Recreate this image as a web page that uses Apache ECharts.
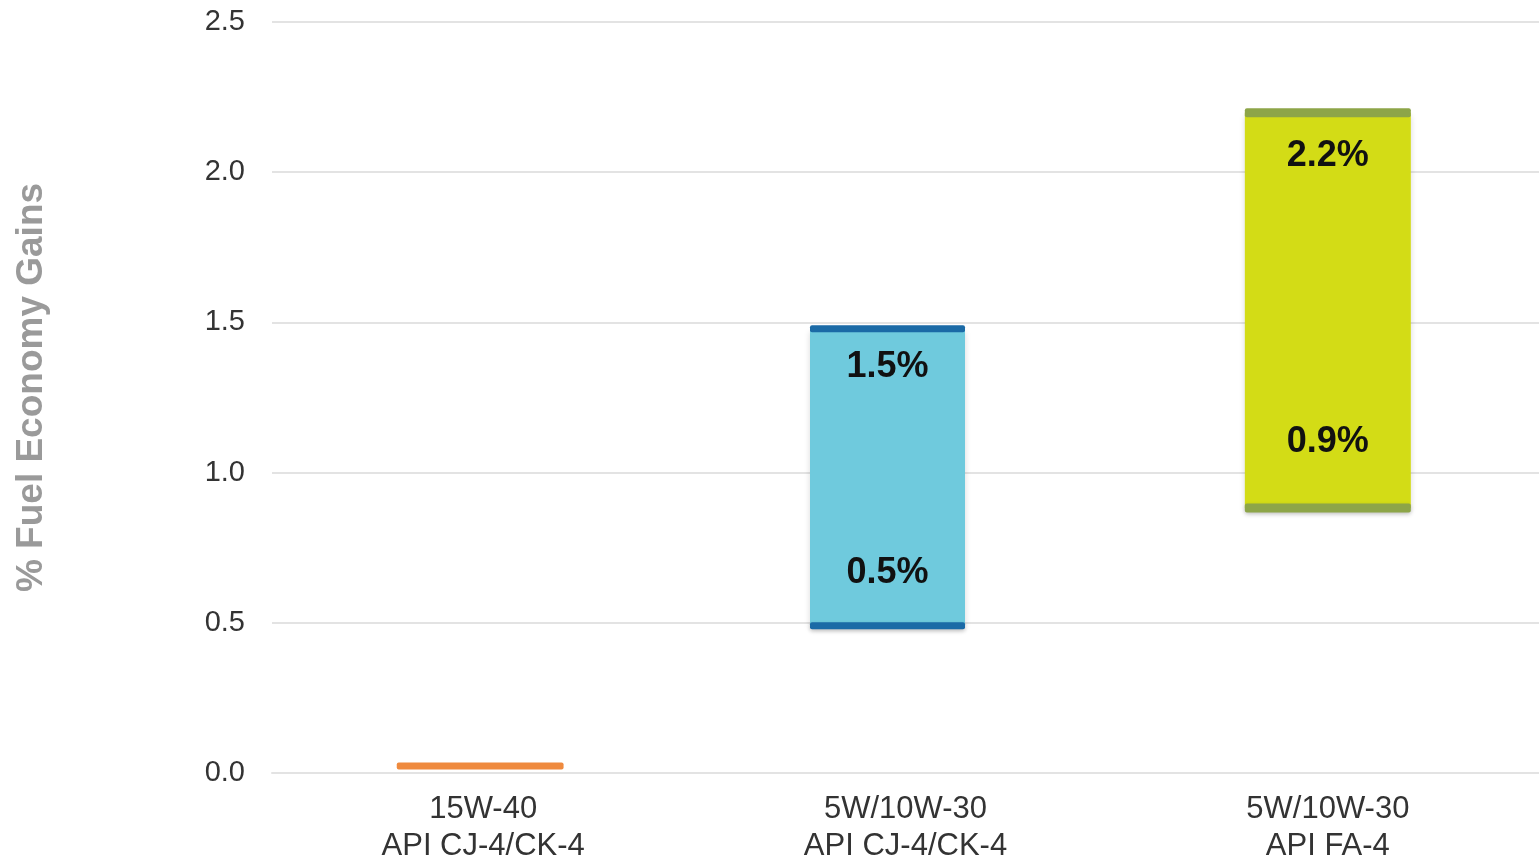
<!DOCTYPE html>
<html><head><meta charset="utf-8">
<script src="https://cdn.jsdelivr.net/npm/echarts@6/dist/echarts.min.js"></script>
<style>html,body{margin:0;padding:0;background:#fff}#c{width:1539px;height:865px}</style>
</head><body><div id="c"></div>
<script>
const categories = ['15W-40\nAPI CJ-4/CK-4', '5W/10W-30\nAPI CJ-4/CK-4', '5W/10W-30\nAPI FA-4'];
const lowValues = [0.023, 0.49, 0.882];
const highValues = [0.023, 1.479, 2.198];
const topLabels = ['', '1.5%', '2.2%'];
const bottomLabels = ['', '0.5%', '0.9%'];
const yTicks = [0, 0.5, 1.0, 1.5, 2.0, 2.5];

// styling
const fillColors = ['#f0883a', '#6fcadd', '#d3dc16'];
const edgeColors = ['#ef8a3e', '#1b6aa6', '#8da548'];
const barShift = [-3, -18, 0];
const barRatio = [0.395, 0.367, 0.393];
const topLabelGap = [0, 38, 43];
const bottomLabelGap = [0, 53, 66];

const chart = echarts.init(document.getElementById('c'));
const data = categories.map((c, i) => [i, lowValues[i], highValues[i]]);
chart.setOption({
  animation: false,
  grid: {left: 272, right: 0, top: 22, bottom: 77},
  xAxis: {
    type: 'category', data: categories,
    axisLine: {show: true, lineStyle: {color: '#e3e3e3', width: 2}},
    axisTick: {show: false},
    axisLabel: {color: '#333', fontSize: 31, fontFamily: 'Liberation Sans', lineHeight: 37, margin: 18}
  },
  yAxis: {
    type: 'value', min: 0, max: 2.5, interval: 0.5,
    name: '% Fuel Economy Gains', nameLocation: 'middle', nameGap: 222,
    nameTextStyle: {color: '#9a9a9a', fontSize: 37, fontWeight: 'bold', fontFamily: 'Liberation Sans', padding: [0, 0, 0, 20]},
    axisLabel: {color: '#333', fontSize: 29, fontFamily: 'Liberation Sans', margin: 27,
      formatter: v => v.toFixed(1)},
    splitLine: {lineStyle: {color: '#e3e3e3', width: 2}},
    axisLine: {show: false}, axisTick: {show: false}
  },
  series: [{
    type: 'custom',
    data: data,
    encode: {x: 0, y: [1, 2]},
    renderItem: function (params, api) {
      const i = api.value(0);
      const pLow = api.coord([i, api.value(1)]);
      const pHigh = api.coord([i, api.value(2)]);
      const w = api.size([1, 0])[0] * barRatio[i];
      const cx = pLow[0] + barShift[i];
      const x0 = cx - w / 2;
      const children = [];
      const h = pLow[1] - pHigh[1];
      if (h > 1) {
        children.push({type: 'rect', shape: {x: x0, y: pHigh[1], width: w, height: h},
          style: {fill: fillColors[i], shadowBlur: 6, shadowColor: 'rgba(0,0,0,0.15)', shadowOffsetY: 3}});
      }
      const t = i === 2 ? 9 : 7;
      children.push({type: 'rect', shape: {x: x0, y: pHigh[1] - t / 2, width: w, height: t, r: 2},
        style: {fill: edgeColors[i]}});
      if (h > 1) {
        children.push({type: 'rect', shape: {x: x0, y: pLow[1] - t / 2, width: w, height: t, r: 2},
          style: {fill: edgeColors[i], shadowBlur: 4, shadowColor: 'rgba(0,0,0,0.2)', shadowOffsetY: 2}});
      }
      if (topLabels[i]) {
        children.push({type: 'text', style: {text: topLabels[i], x: cx, y: pHigh[1] + topLabelGap[i],
          align: 'center', verticalAlign: 'middle', fill: '#111', fontSize: 36, fontWeight: 'bold', fontFamily: 'Liberation Sans'}});
      }
      if (bottomLabels[i]) {
        children.push({type: 'text', style: {text: bottomLabels[i], x: cx, y: pLow[1] - bottomLabelGap[i],
          align: 'center', verticalAlign: 'middle', fill: '#111', fontSize: 36, fontWeight: 'bold', fontFamily: 'Liberation Sans'}});
      }
      return {type: 'group', children: children};
    }
  }]
});
</script></body></html>
